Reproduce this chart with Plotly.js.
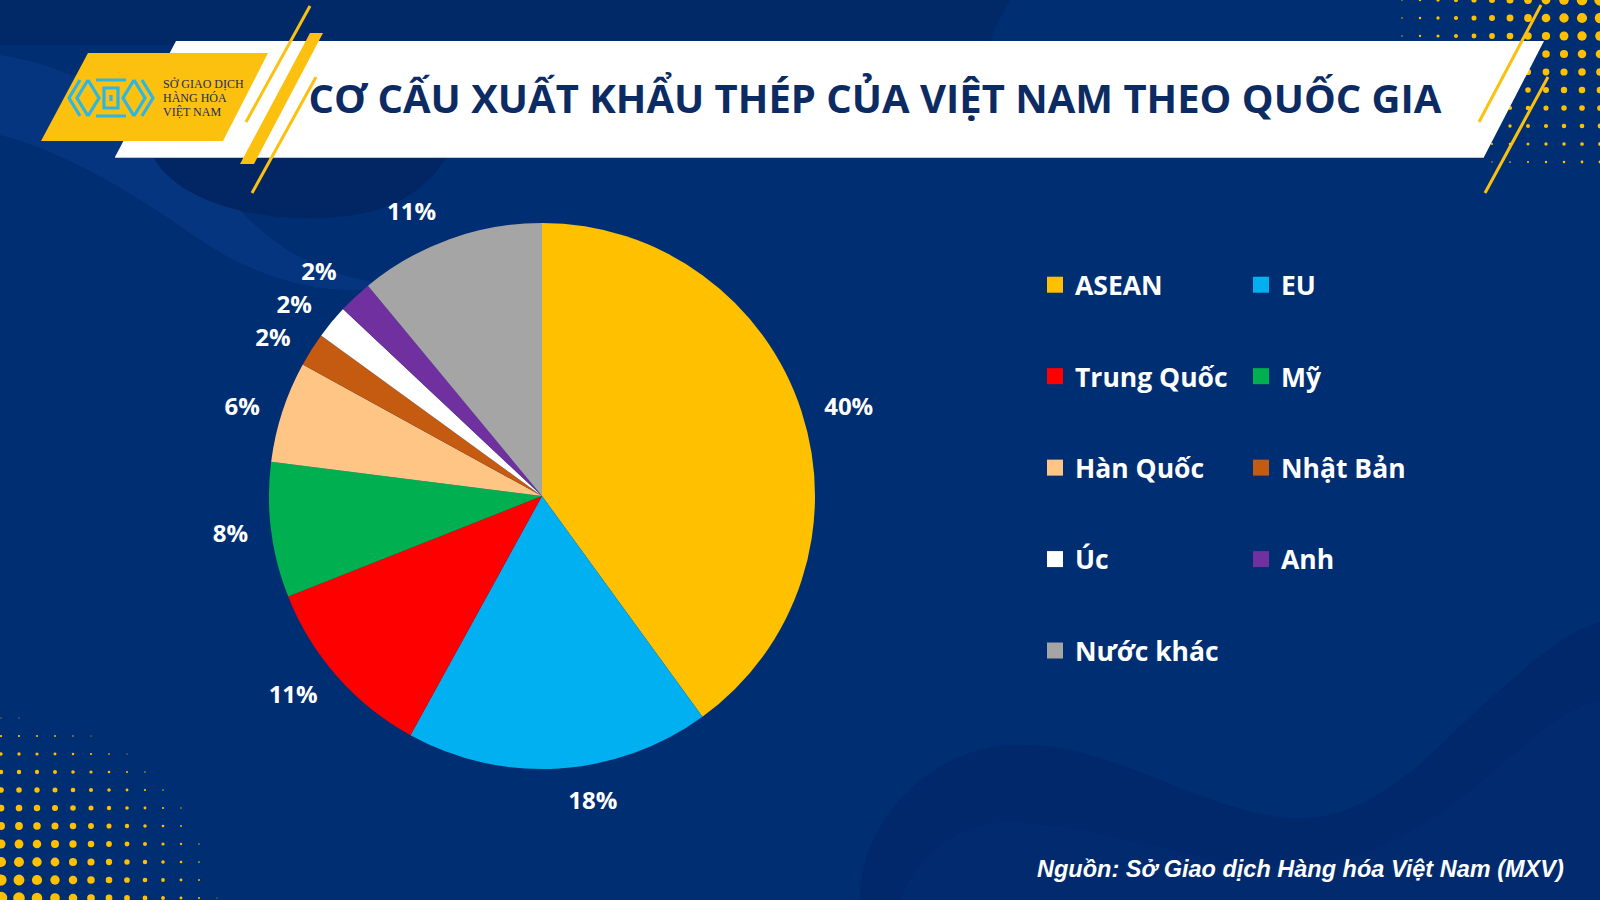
<!DOCTYPE html>
<html>
<head>
<meta charset="utf-8">
<script src="https://cdn.plot.ly/plotly-3.0.1.min.js"></script>
<style>
  html, body { margin: 0; padding: 0; background: #002E72; }
  #chart { width: 1600px; height: 900px; }
</style>
</head>
<body>
<div id="chart"></div>
<script>
// ---------------- DATA ----------------
const categories = ['ASEAN', 'EU', 'Trung Quốc', 'Mỹ', 'Hàn Quốc', 'Nhật Bản', 'Úc', 'Anh', 'Nước khác'];
const shares = [40, 18, 11, 8, 6, 2, 2, 2, 11];
const sliceColors = ['#FFC000', '#00B0F0', '#FF0000', '#00B050', '#FFC585', '#C55A11', '#FFFFFF', '#7030A0', '#A5A5A5'];
const legendColumn = ['legend', 'legend2', 'legend', 'legend2', 'legend', 'legend2', 'legend', 'legend2', 'legend'];
const titleText = 'CƠ CẤU XUẤT KHẨU THÉP CỦA VIỆT NAM THEO QUỐC GIA';
const sourceText = 'Nguồn: Sở Giao dịch Hàng hóa Việt Nam (MXV)';
const logoLines = ['SỞ GIAO DỊCH', 'HÀNG HÓA', 'VIỆT NAM'];

// ---------------- GEOMETRY ----------------
const W = 1600, H = 900;
const cx = 542, cy = 496, R = 273, RL = 288;
function dom(r) {
  return { x: [(cx - r) / W, (cx + r) / W], y: [1 - (cy + r) / H, 1 - (cy - r) / H] };
}

const pie = {
  type: 'pie', labels: categories, values: shares, sort: false,
  direction: 'clockwise', rotation: 0,
  marker: { colors: sliceColors, line: { width: 0 } },
  textinfo: 'none', showlegend: false, domain: dom(R),
  hoverinfo: 'label+percent'
};
const pieLabels = {
  type: 'pie', labels: categories, values: shares, sort: false,
  direction: 'clockwise', rotation: 0,
  marker: { colors: categories.map(() => 'rgba(0,0,0,0)'), line: { width: 0 } },
  textposition: 'outside', texttemplate: '%{percent:.0%}',
  outsidetextfont: { family: 'Open Sans', size: 24, color: '#FFFFFF', weight: 700 },
  showlegend: false, domain: dom(RL), hoverinfo: 'skip'
};
const legendTraces = categories.map((c, i) => ({
  type: 'scatter', mode: 'markers', x: [null], y: [null], name: c,
  legend: legendColumn[i], legendgroup: 'g' + i,
  marker: { symbol: 'square', size: 16, color: sliceColors[i], line: { width: 0 } },
  hoverinfo: 'skip'
}));

// ---------------- DECORATION ----------------
const shapes = [];
function path(d, fill, extra) {
  shapes.push(Object.assign({ type: 'path', path: d, xref: 'x', yref: 'y', fillcolor: fill, line: { width: 0 }, layer: 'below' }, extra || {}));
}
function line(x0, y0, x1, y1, color, w) {
  shapes.push({ type: 'line', x0, y0, x1, y1, xref: 'x', yref: 'y', line: { color, width: w }, layer: 'below' });
}
function dot(x, y, r, color) {
  shapes.push({ type: 'circle', x0: x - r, x1: x + r, y0: y - r, y1: y + r, xref: 'x', yref: 'y', fillcolor: color, line: { width: 0 }, layer: 'below' });
}

// background waves
path('M 0,0 L 1010,0 C 995,25 990,40 990,45 L 0,45 Z', '#012968');
path('M 0,55 C 90,70 150,110 230,200 C 280,255 330,280 400,285 C 330,300 260,280 200,240 C 130,190 60,150 0,135 Z', '#05357F');
path('M 150,150 C 170,200 250,220 320,218 C 390,216 430,190 450,150 Z', '#022563');
path('M 860,900 C 860,820 930,750 1010,745 C 1110,740 1200,812 1290,818 C 1380,824 1440,740 1500,690 C 1540,655 1570,630 1600,622 L 1600,900 Z', '#01286A');
path('M 900,900 C 920,850 960,822 1010,822 C 1110,825 1200,868 1290,866 C 1400,862 1470,790 1530,740 C 1560,715 1580,705 1600,700 L 1600,900 Z', '#012B6E');

// dotted halftone patterns
for (let i = 0; i < 13; i++) {
  for (let j = 0; j < 10; j++) {
    const x = 1600 - 18 * i, y = 18 * j;
    const d = 11.5 * (1 - Math.hypot(18 * i / 230, y / 215));
    if (d > 1) dot(x, y, d / 2, '#FFC000');
  }
}
for (let i = 0; i < 13; i++) {
  for (let j = 0; j < 11; j++) {
    const x = 1 + 18 * i, y = 898 - 18 * j;
    const d = 12.5 * (1 - Math.hypot(18 * i / 235, (900 - y) / 200));
    if (d > 1) dot(x, y, d / 2, '#FFC000');
  }
}

// header banner
path('M 176,41 L 1544,41 L 1484,157 L 115,157 Z', '#FFFFFF');
line(115, 157.5, 1484, 157.5, '#B9C7DE', 1.2);
path('M 88,53 L 268,53 L 223,141 L 41,141 Z', '#FCC10F');
line(310, 6, 246, 122, '#FCC10F', 3);
path('M 310,33 L 323,33 L 254,164 L 240,164 Z', '#FCC10F');
line(316, 77, 252, 193, '#FCC10F', 3);
line(1541, 5, 1479, 122, '#FCC10F', 3);
line(1548, 77, 1485, 193, '#FCC10F', 3);

// logo mark
const logoBlue = '#2CB6E6';
shapes.push({ type: 'path', xref: 'x', yref: 'y', layer: 'below', line: { color: logoBlue, width: 3.2 },
  path: 'M 80,80 L 69,98 L 80,116 M 88,80 L 77,98 L 88,116 M 88,80 L 99,98 L 88,116 M 134,80 L 123,98 L 134,116 M 142,80 L 153,98 L 142,116 M 134,80 L 145,98 L 134,116' });
shapes.push({ type: 'path', xref: 'x', yref: 'y', layer: 'below', line: { color: logoBlue, width: 3.2 },
  path: 'M 96,80 L 126,80 M 96,116 L 126,116 M 104,88 L 118,88 L 118,108 L 104,108 Z M 111,95 L 111,101' });

// ---------------- ANNOTATIONS ----------------
const annotations = [];
logoLines.forEach((t, i) => annotations.push({
  text: t, xref: 'x', yref: 'y', x: 161, y: 84 + 14 * i, xanchor: 'left', yanchor: 'middle',
  showarrow: false, font: { family: 'Liberation Serif', size: 12, color: '#1E2A55' }
}));
annotations.push({
  text: '<b><i>' + sourceText + '</i></b>', xref: 'x', yref: 'y', x: 1566, y: 869, xanchor: 'right', yanchor: 'middle',
  showarrow: false, font: { family: 'Liberation Sans', size: 23.5, color: '#FFFFFF' }
});

// ---------------- LAYOUT ----------------
const legendBase = {
  orientation: 'v', xanchor: 'left', yanchor: 'top', bgcolor: 'rgba(0,0,0,0)', borderwidth: 0,
  font: { family: 'Open Sans', size: 26.5, color: '#FFFFFF', weight: 700 },
  tracegroupgap: 54, itemwidth: 30, itemclick: false, itemdoubleclick: false
};

const layout = {
  width: W, height: H,
  margin: { l: 0, r: 0, t: 0, b: 0, pad: 0, autoexpand: false },
  paper_bgcolor: '#002E72', plot_bgcolor: 'rgba(0,0,0,0)',
  xaxis: { range: [0, W], visible: false, fixedrange: true },
  yaxis: { range: [H, 0], visible: false, fixedrange: true },
  showlegend: true,
  legend: Object.assign({}, legendBase, { x: 1035 / W, y: 1 - 261 / H }),
  legend2: Object.assign({}, legendBase, { x: 1241 / W, y: 1 - 261 / H }),
  title: {
    text: titleText, xref: 'container', yref: 'container',
    x: 875 / W, xanchor: 'center', y: 1 - 99 / H, yanchor: 'middle',
    font: { family: 'Open Sans', size: 40, color: '#0D2B63', weight: 700 }
  },
  shapes: shapes,
  annotations: annotations,
  hovermode: false
};

Plotly.newPlot('chart', [pie, pieLabels].concat(legendTraces), layout, { displayModeBar: false, staticPlot: true })
  .then(() => document.querySelectorAll('path.textline').forEach(p => p.remove()));
</script>
</body>
</html>
